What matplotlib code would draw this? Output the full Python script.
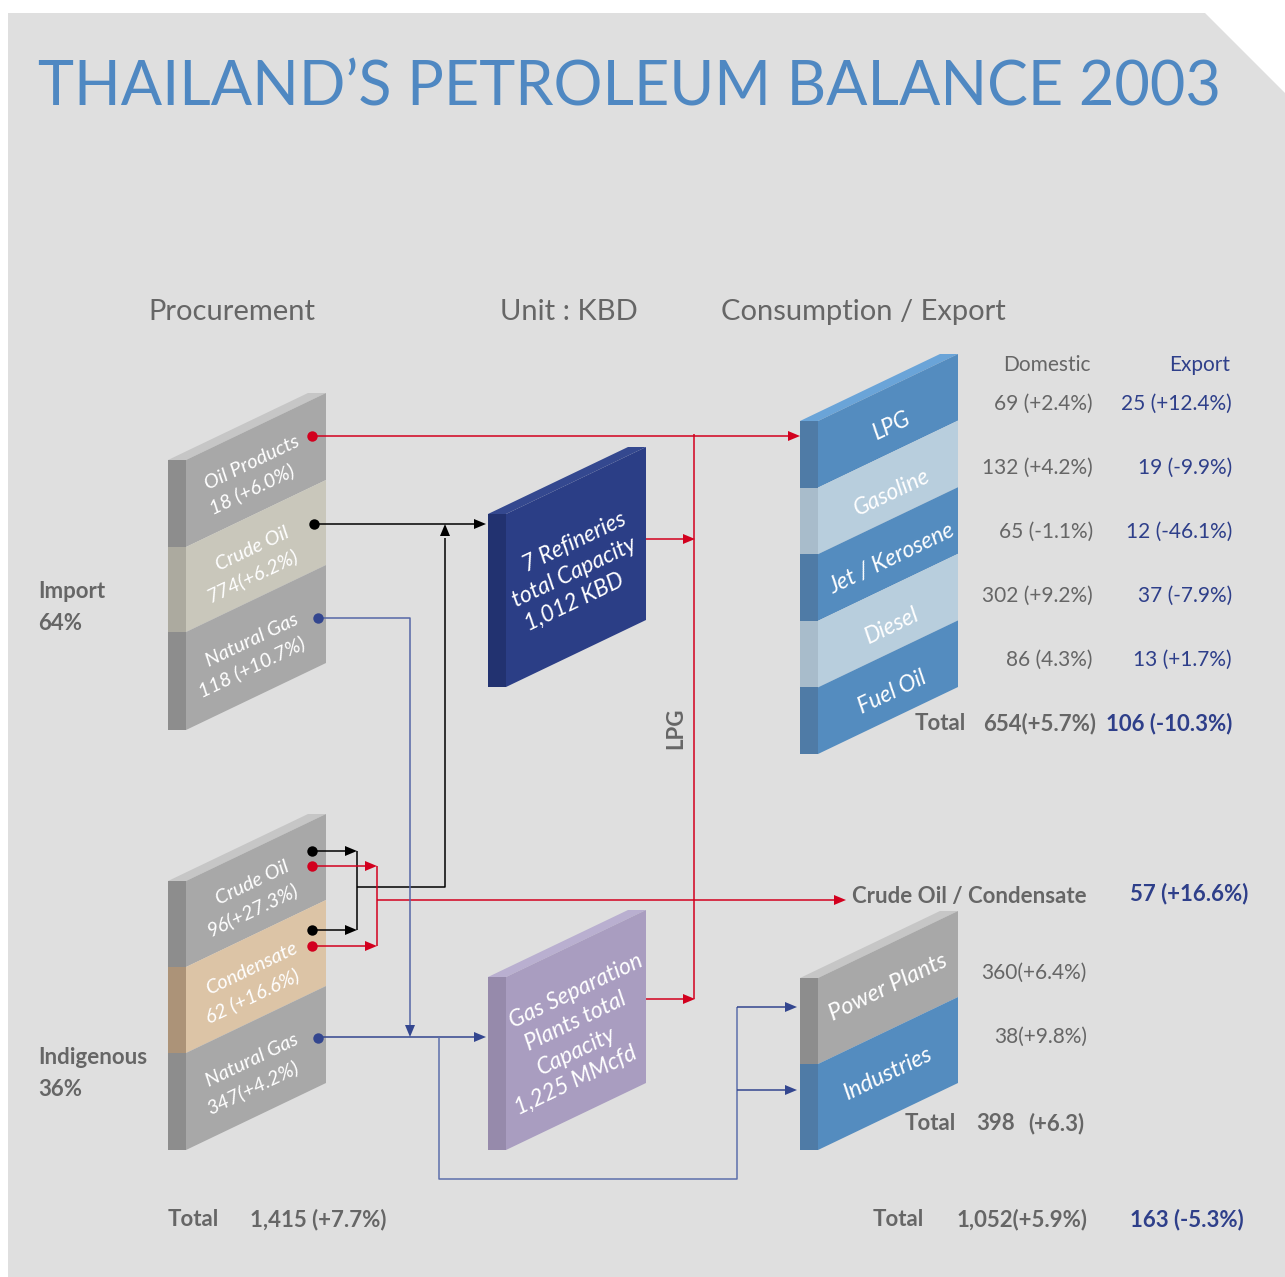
import matplotlib.pyplot as plt
from matplotlib.patches import Polygon

plt.rcParams['font.family'] = ['Lato', 'DejaVu Sans']

# ---- data ----
import_labels = ["Oil Products", "Crude Oil", "Natural Gas"]
import_values = ["18 (+6.0%)", "774(+6.2%)", "118 (+10.7%)"]
indig_labels = ["Crude Oil", "Condensate", "Natural Gas"]
indig_values = ["96(+27.3%)", "62 (+16.6%)", "347(+4.2%)"]
products = ["LPG", "Gasoline", "Jet / Kerosene", "Diesel", "Fuel Oil"]
domestic = ["69 (+2.4%)", "132 (+4.2%)", "65 (-1.1%)", "302 (+9.2%)", "86 (4.3%)"]
export = ["25 (+12.4%)", "19 (-9.9%)", "12 (-46.1%)", "37 (-7.9%)", "13 (+1.7%)"]
products_total = ["654(+5.7%)", "106 (-10.3%)"]
users = ["Power Plants", "Industries"]
users_values = ["360(+6.4%)", "38(+9.8%)"]
users_total = ["398", "(+6.3)"]
crude_export = "57 (+16.6%)"
shares = [("Import", "64%"), ("Indigenous", "36%")]
procurement_total = "1,415 (+7.7%)"
grand_total = ["1,052(+5.9%)", "163 (-5.3%)"]
refinery_text = ["7 Refineries", "total Capacity", "1,012 KBD"]
gsp_text = ["Gas Separation", "Plants total", "Capacity", "1,225 MMcfd"]

GRAY_TXT = "#666666"
BLUE_TXT = "#2e3f8a"
RED = "#d2001e"
BLUE_LN = "#33468f"
ANG = 25.6
RISE = 67
DEPTH = 18
WIDTH = 140
FS = 15     # regular table text
FB = 16     # bold labels

fig = plt.figure(figsize=(12.85, 12.77), dpi=100)
ax = fig.add_axes([0, 0, 1, 1])
ax.set_xlim(0, 1285)
ax.set_ylim(1277, 0)
ax.axis("off")

# background panel with cut corner
ax.add_patch(Polygon([(8, 13), (1205, 13), (1285, 93), (1285, 1277), (8, 1277)],
                     closed=True, facecolor="#dfdfdf", edgecolor="none", zorder=0))


def block(x0, ytop, heights, faces, sides, topc):
    xl, xr = x0 + DEPTH, x0 + DEPTH + WIDTH
    ax.add_patch(Polygon([(x0, ytop), (xl, ytop), (xr, ytop - RISE), (xr - DEPTH, ytop - RISE)],
                         facecolor=topc, edgecolor="none", zorder=2))
    y = ytop
    centers = []
    for h, fc, sc in zip(heights, faces, sides):
        ax.add_patch(Polygon([(x0, y), (xl, y), (xl, y + h), (x0, y + h)],
                             facecolor=sc, edgecolor="none", zorder=2))
        ax.add_patch(Polygon([(xl, y), (xr, y - RISE), (xr, y + h - RISE), (xl, y + h)],
                             facecolor=fc, edgecolor="none", zorder=2))
        centers.append(((xl + xr) / 2, y + h / 2 - RISE / 2))
        y += h
    return centers


def slab_text(c, lines, size, dx=0, dy=0, step=28):
    # lines stacked straight down, as on a sheared (oblique) face
    n = len(lines)
    for i, s in enumerate(lines):
        ax.text(c[0] + dx, c[1] + dy + (i - (n - 1) / 2) * step, s, color="white",
                fontsize=size, style="italic", rotation=ANG, rotation_mode="anchor",
                ha="center", va="center", zorder=4)


def arrow(x, y, d, color, L=12, W=5):
    if d == "r":
        pts = [(x, y), (x - L, y - W), (x - L, y + W)]
    elif d == "d":
        pts = [(x, y), (x - W, y - L), (x + W, y - L)]
    else:
        pts = [(x, y), (x - W, y + L), (x + W, y + L)]
    ax.add_patch(Polygon(pts, facecolor=color, edgecolor="none", zorder=5))


def line(xs, ys, color, lw=1.1):
    ax.plot(xs, ys, color=color, lw=lw, zorder=3, solid_capstyle="butt")


def dot(x, y, color):
    ax.plot(x, y, "o", ms=7.5, color=color, mec="none", zorder=5)


# ---- title & headers ----
ax.text(38, 105, "THAILAND\u2019S PETROLEUM BALANCE 2003", fontsize=44, color="#4f88c2",
        ha="left", va="baseline")
ax.text(148, 312, "Procurement", fontsize=21, color=GRAY_TXT, va="center")
ax.text(500, 312, "Unit : KBD", fontsize=21, color=GRAY_TXT, va="center")
ax.text(721, 312, "Consumption / Export", fontsize=21, color=GRAY_TXT, va="center")

# ---- blocks ----
gray_f, gray_s = "#a8a8a8", "#8d8d8d"
imp_c = block(168, 460, [87, 85, 98], [gray_f, "#c9c7bb", gray_f],
              [gray_s, "#acaa9f", gray_s], "#c6c6c6")
for c, lab, val in zip(imp_c, import_labels, import_values):
    slab_text(c, [lab, val], 14.5, dx=-4, dy=6, step=27)

ind_c = block(168, 881, [86, 86, 97], [gray_f, "#dcc4a6", gray_f],
              [gray_s, "#ac9378", gray_s], "#c6c6c6")
for c, lab, val in zip(ind_c, indig_labels, indig_values):
    slab_text(c, [lab, val], 14.5, dx=-4, dy=6, step=27)

ref_c = block(488, 514, [173], ["#2b3e86"], ["#223270"], "#34488f")
slab_text(ref_c[0], refinery_text, 16.5, dx=-2, dy=5, step=30)

gsp_c = block(488, 977, [173], ["#a99dc0"], ["#968aab"], "#b9afd0")
slab_text(gsp_c[0], gsp_text, 16.5, dx=0, dy=6, step=30)

blue_f, blue_s = "#548cbf", "#4f7ba6"
lt_f, lt_s = "#b8cedd", "#a8bccb"
con_c = block(800, 421, [66.6] * 5, [blue_f, lt_f, blue_f, lt_f, blue_f],
              [blue_s, lt_s, blue_s, lt_s, blue_s], "#6aa4d8")
for c, lab in zip(con_c, products):
    slab_text(c, [lab], 16.5, dx=4, dy=5)

usr_c = block(800, 978, [86, 86], [gray_f, blue_f], [gray_s, blue_s], "#c6c6c6")
for c, lab in zip(usr_c, users):
    slab_text(c, [lab], 17, dx=0)

# ---- flows ----
# import oil products -> LPG
dot(312, 436, RED)
line([312, 788], [436, 436], RED)
arrow(800, 436, "r", RED)
# LPG collector
line([694, 694], [434, 999], RED)
line([646, 683], [539, 539], RED)
arrow(695, 539, "r", RED)
line([646, 683], [999, 999], RED)
arrow(695, 999, "r", RED)
ax.text(676, 728, "LPG", rotation=90, fontsize=FB, fontweight="bold", color=GRAY_TXT,
        ha="center", va="center")

# crude oil import -> refineries
dot(314, 524, "black")
line([314, 474], [524, 524], "black")
arrow(486, 524, "r", "black")
# indigenous crude/condensate -> refineries
for yy in (851, 930):
    dot(312, yy, "black")
    line([312, 345], [yy, yy], "black")
    arrow(357, yy, "r", "black")
line([357, 357], [851, 930], "black")
line([357, 445, 445], [887, 887, 538], "black")
arrow(445, 524, "u", "black")
# indigenous crude/condensate -> export
for yy in (866, 946):
    dot(312, yy, RED)
    line([312, 365], [yy, yy], RED)
    arrow(377, yy, "r", RED)
line([377, 377], [866, 946], RED)
line([377, 834], [900, 900], RED)
arrow(846, 900, "r", RED)

# natural gas
dot(318, 618, BLUE_LN)
line([318, 410, 410], [618, 618, 1025], "#5566a6")
arrow(410, 1037, "d", BLUE_LN)
dot(318, 1038, BLUE_LN)
line([318, 474], [1037, 1037], BLUE_LN)
arrow(486, 1037, "r", BLUE_LN)
line([439, 439, 737, 737], [1037, 1179, 1179, 1007], "#5d6fab")
line([737, 785], [1007, 1007], BLUE_LN)
arrow(797, 1007, "r", BLUE_LN)
line([737, 785], [1090, 1090], BLUE_LN)
arrow(797, 1090, "r", BLUE_LN)

# ---- side labels ----
for (lab, pct), yy in zip(shares, (592, 1057)):
    ax.text(38, yy, lab, fontsize=FB, fontweight="bold", color=GRAY_TXT, va="center")
    ax.text(38, yy + 32, pct, fontsize=FB, fontweight="bold", color=GRAY_TXT, va="center")

# ---- consumption table ----
ax.text(1047, 365, "Domestic", fontsize=FS, color=GRAY_TXT, ha="center", va="center")
ax.text(1230, 365, "Export", fontsize=FS, color=BLUE_TXT, ha="right", va="center")
for i, (d, e) in enumerate(zip(domestic, export)):
    yy = 404 + 64 * i
    ax.text(1093, yy, d, fontsize=FS, color=GRAY_TXT, ha="right", va="center")
    ax.text(1232, yy, e, fontsize=FS, color=BLUE_TXT, ha="right", va="center")
ax.text(915, 724, "Total", fontsize=FB, fontweight="bold", color=GRAY_TXT, va="center")
ax.text(1096, 724, products_total[0], fontsize=FB, fontweight="bold", color=GRAY_TXT,
        ha="right", va="center")
ax.text(1232, 724, products_total[1], fontsize=FB, fontweight="bold", color=BLUE_TXT,
        ha="right", va="center")

ax.text(852, 897, "Crude Oil / Condensate", fontsize=FB, fontweight="bold", color=GRAY_TXT,
        va="center")
ax.text(1130, 894, crude_export, fontsize=FB, fontweight="bold", color=BLUE_TXT, va="center")

for v, yy in zip(users_values, (973, 1037)):
    ax.text(1087, yy, v, fontsize=FS, color=GRAY_TXT, ha="right", va="center")
ax.text(905, 1124, "Total", fontsize=FB, fontweight="bold", color=GRAY_TXT, va="center")
ax.text(976, 1124, users_total[0], fontsize=FB, fontweight="bold", color=GRAY_TXT, va="center")
ax.text(1028, 1124, users_total[1], fontsize=FB, fontweight="bold", color=GRAY_TXT, va="center")

# ---- bottom totals ----
ax.text(168, 1220, "Total", fontsize=FB, fontweight="bold", color=GRAY_TXT, va="center")
ax.text(250, 1220, procurement_total, fontsize=FB, fontweight="bold", color=GRAY_TXT, va="center")
ax.text(873, 1220, "Total", fontsize=FB, fontweight="bold", color=GRAY_TXT, va="center")
ax.text(957, 1220, grand_total[0], fontsize=FB, fontweight="bold", color=GRAY_TXT, va="center")
ax.text(1130, 1220, grand_total[1], fontsize=FB, fontweight="bold", color=BLUE_TXT, va="center")

fig.savefig("out.png", dpi=100, facecolor="white")
